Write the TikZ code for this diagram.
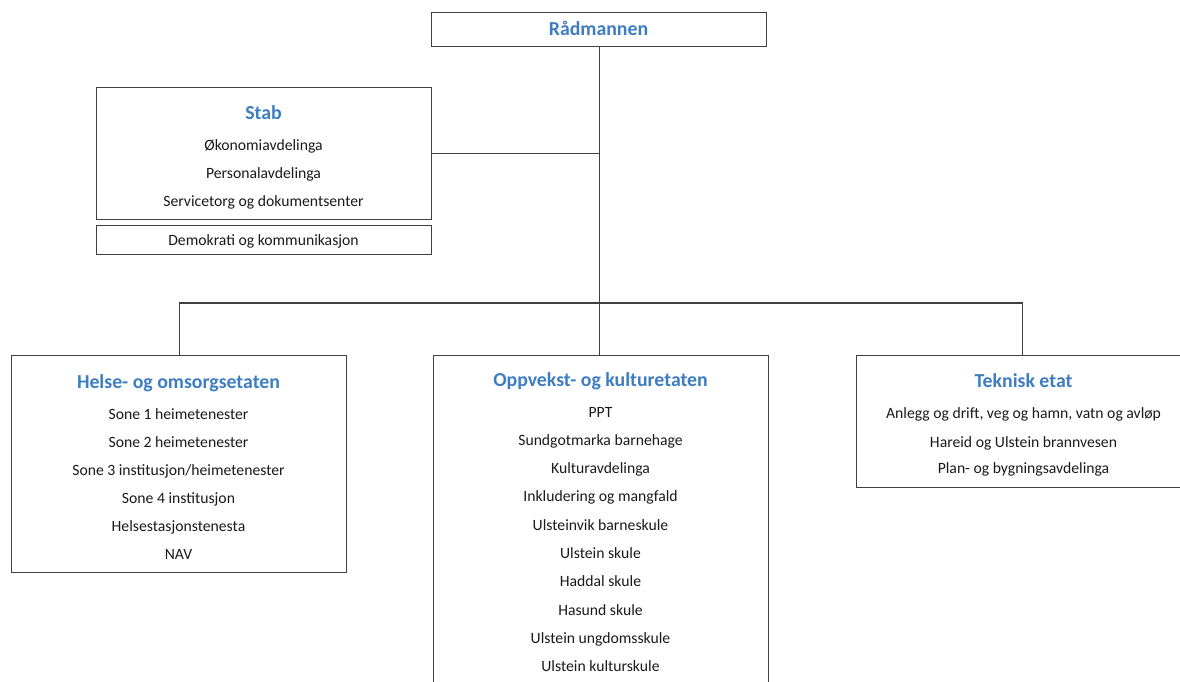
\documentclass[tikz,border=0pt]{standalone}
\usepackage{fontspec}
\setmainfont{Carlito}
\definecolor{hblue}{HTML}{3E7DC2}
\definecolor{lgray}{HTML}{404040}
\definecolor{tblack}{HTML}{1A1A1A}
\begin{document}
\begin{tikzpicture}[x=1pt,y=-1pt,
  box/.style={draw=lgray, line width=1.2pt, fill=white, inner sep=0pt, anchor=north west},
  title/.style={font=\fontsize{19.8}{23}\selectfont\bfseries, text=hblue, inner sep=0pt, text height=0.68em, text depth=0pt, yshift=-2.5pt},
  item/.style={font=\fontsize{15.7}{18}\selectfont, text=tblack, inner sep=0pt, text height=0.68em, text depth=0pt, yshift=-2pt},
  conn/.style={draw=lgray, line width=1.2pt}]
\useasboundingbox (0,0) rectangle (1180,681);

\coordinate (bar) at (0,303);
\node[box, minimum width=335pt, minimum height=34pt] (rad) at (431,12) {};
\node[box, minimum width=335pt, minimum height=132pt] (stab) at (96,87) {};
\node[box, minimum width=335pt, minimum height=29pt] (demo) at (96,225) {};
\node[box, minimum width=335pt, minimum height=217pt] (helse) at (11,355) {};
\node[box, minimum width=335pt, minimum height=335pt] (opp) at (433,355) {};
\node[box, minimum width=332pt, minimum height=132pt] (tek) at (856,355) {};

\draw[conn] (rad.south) -- (rad.south |- bar);
\draw[conn] (stab.east) -- (stab.east -| rad.south);
\draw[conn] (helse.north |- bar) -- (tek.north |- bar);
\draw[conn] (helse.north |- bar) -- (helse.north);
\draw[conn] (rad.south |- bar) -- (rad.south |- opp.north);
\draw[conn] (tek.north |- bar) -- (tek.north);

% Rådmannen
\node[title] (radt) at (598.5,29.7) {Rådmannen};

% Stab
\node[title] (stabt) at (263.5,113.7) {Stab};
\node[item] (s1) at (263.5,144.7) {Økonomiavdelinga};
\node[item] (s2) at (263.5,173.3) {Personalavdelinga};
\node[item] (s3) at (263.5,200.8) {Servicetorg og dokumentsenter};
\node[item] (d1) at (263.5,240.3) {Demokrati og kommunikasjon};

% Helse
\node[title] (ht) at (178.5,382.5) {Helse- og omsorgsetaten};
\node[item] (h1) at (178.5,413.6) {Sone 1 heimetenester};
\node[item] (h2) at (178.5,441.6) {Sone 2 heimetenester};
\node[item] (h3) at (178.5,469.6) {Sone 3 institusjon/heimetenester};
\node[item] (h4) at (178.5,497.7) {Sone 4 institusjon};
\node[item] (h5) at (178.5,525.7) {Helsestasjonstenesta};
\node[item] (h6) at (178.5,553.8) {NAV};

% Oppvekst
\node[title] (ot) at (600.5,381) {Oppvekst- og kulturetaten};
\node[item] (o1) at (600.5,411.7) {PPT};
\node[item] (o2) at (600.5,440.0) {Sundgotmarka barnehage};
\node[item] (o3) at (600.5,468.3) {Kulturavdelinga};
\node[item] (o4) at (600.5,496.5) {Inkludering og mangfald};
\node[item] (o5) at (600.5,524.8) {Ulsteinvik barneskule};
\node[item] (o6) at (600.5,553.1) {Ulstein skule};
\node[item] (o7) at (600.5,581.4) {Haddal skule};
\node[item] (o8) at (600.5,609.6) {Hasund skule};
\node[item] (o9) at (600.5,637.9) {Ulstein ungdomsskule};
\node[item] (o10) at (600.5,666.2) {Ulstein kulturskule};

% Teknisk
\node[title] (tt) at (1023.5,381.2) {Teknisk etat};
\node[item] (t1) at (1023.5,413.3) {Anlegg og drift, veg og hamn, vatn og avløp};
\node[item] (t2) at (1023.5,441.7) {Hareid og Ulstein brannvesen};
\node[item] (t3) at (1023.5,468.3) {Plan- og bygningsavdelinga};
\end{tikzpicture}
\end{document}
